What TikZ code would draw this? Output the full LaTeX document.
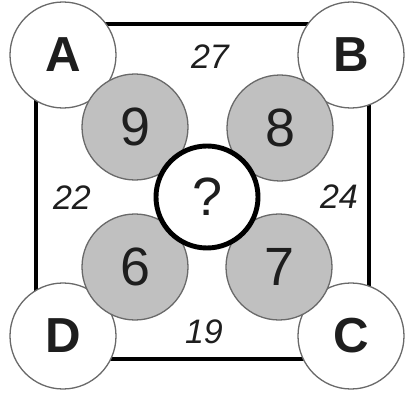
\documentclass[tikz,border=0pt]{standalone}
\usepackage{fontspec}
\setmainfont{Liberation Sans}
\usetikzlibrary{positioning}
\definecolor{ringgray}{RGB}{105,105,105}
\definecolor{discgray}{RGB}{192,192,192}
\definecolor{inkgray}{RGB}{30,30,30}
\tikzset{
  cornerball/.style={circle,draw=ringgray,fill=white,line width=1.1pt,minimum size=3.18cm,
    inner sep=0pt,text=inkgray,font=\fontsize{42}{42}\selectfont\bfseries},
  numberball/.style={circle,draw=ringgray,fill=discgray,line width=1.1pt,minimum size=3.18cm,
    inner sep=0pt,text=inkgray,font=\fontsize{46}{46}\selectfont},
  askball/.style={circle,draw=black,fill=white,line width=4.2pt,minimum size=3.06cm,
    inner sep=0pt,text=inkgray,font=\fontsize{46}{46}\selectfont},
  sidesum/.style={inner sep=0pt,text=inkgray,font=\fontsize{29}{29}\selectfont\itshape},
  frameline/.style={line width=3.4pt,draw=black},
}

\begin{document}
\begin{tikzpicture}[x=0.03cm,y=-0.03cm]
    \useasboundingbox (0,0) rectangle (408,395);
    % outer square
    \coordinate (sqtl) at (36,24);
    \coordinate (sqbr) at (369,359);
    \draw[frameline] (sqtl) rectangle (sqbr);
    % corners
    \node[cornerball] (a) at (63,55) {A};
    \node[cornerball] (b) at (351,55) {B};
    \node[cornerball] (c) at (351,336) {C};
    \node[cornerball] (d) at (63,336) {D};
    % inner numbers
    \node[numberball] (n9) at (135,127) {9};
    \node[numberball] (n8) at (280,128) {8};
    \node[numberball] (n6) at (135,267) {6};
    \node[numberball] (n7) at (279,267) {7};
    \node[askball] (ask) at (207,197) {?};
    % sums along the sides
    \node[sidesum] (top) at (210,57) {27};
    \node[sidesum] (left) at (72,198) {22};
    \node[sidesum] (right) at (339,197) {24};
    \node[sidesum] (bottom) at (204,332) {19};
  \end{tikzpicture}
\end{document}
